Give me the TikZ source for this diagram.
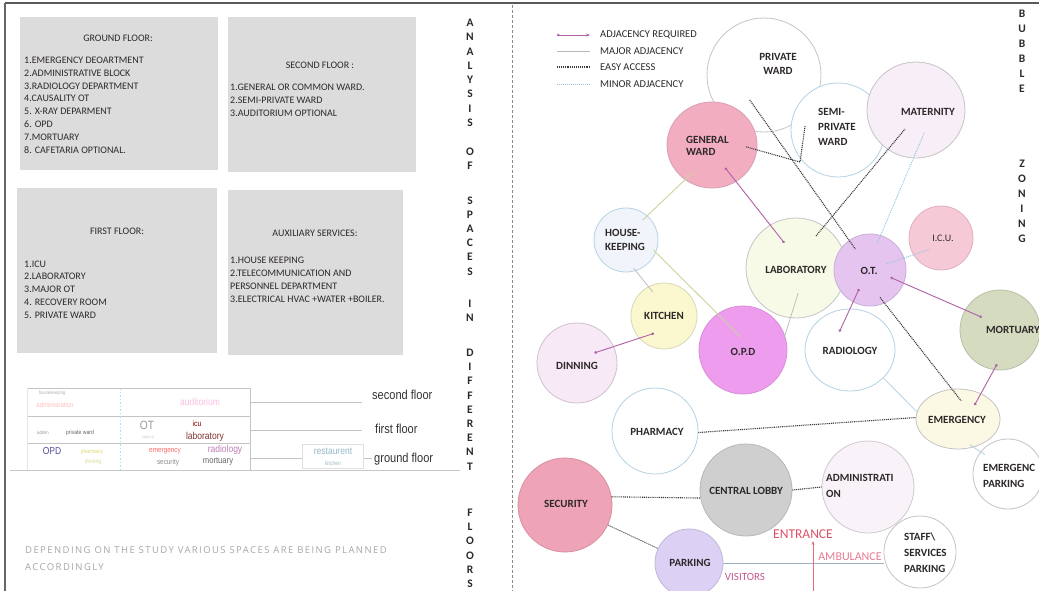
\documentclass[tikz,border=0pt]{standalone}
\usepackage{fontspec}
\setmainfont{Carlito}
\newfontfamily\narrowf[FakeStretch=0.85]{Liberation Sans}
\newfontfamily\openf[LetterSpace=15]{Open Sans}
\usetikzlibrary{shapes.geometric,arrows.meta,calc}
\definecolor{boxgray}{HTML}{DCDCDC}
\definecolor{txtdark}{HTML}{2E2929}
\definecolor{bline}{HTML}{C4C4C4}
\definecolor{blueline}{HTML}{B4D2E4}
\definecolor{purp}{HTML}{B060A8}
\definecolor{dotdark}{HTML}{383838}
\definecolor{minorblue}{HTML}{92C4DE}
\definecolor{majgray}{HTML}{B8B8B8}
\definecolor{ygreen}{HTML}{CAD59C}
\definecolor{redent}{HTML}{E0506A}
\begin{document}
\begin{tikzpicture}[x=1pt,y=-1pt,
  boxtitle/.style={font=\fontsize{10}{12}\selectfont, text=txtdark, inner sep=0pt},
  boxline/.style={font=\fontsize{10}{12}\selectfont, text=txtdark, inner sep=0pt, anchor=west},
  vl/.style={font=\bfseries\fontsize{11.5}{12}\selectfont, text=txtdark, inner sep=0pt},
  bub/.style={circle, inner sep=0pt, line width=0.8pt, minimum size=#1},
  ell/.style={ellipse, inner sep=0pt, line width=0.8pt},
  btxt/.style={font=\bfseries\fontsize{11}{14}\selectfont, text=txtdark, inner sep=0pt, align=center},
  btxtl/.style={font=\bfseries\fontsize{11}{15}\selectfont, text=txtdark, inner sep=0pt, align=left, anchor=west},
  legt/.style={font=\fontsize{10.5}{12}\selectfont, text=txtdark, inner sep=0pt, anchor=west},
  adjreq/.style={draw=purp, line width=0.9pt, {Circle[length=2.6pt]}-{Circle[length=2.6pt]}},
  easy/.style={draw=dotdark, line width=1.1pt, dash pattern=on 1pt off 0.9pt},
  minor/.style={draw=minorblue, line width=0.9pt, dash pattern=on 1pt off 1pt},
  major/.style={draw=majgray, line width=0.7pt},
  yline/.style={draw=ygreen, line width=0.9pt},
  sec/.style={draw=bline, line width=0.6pt},
  secl/.style={font=\narrowf\fontsize{13}{14}\selectfont, text=black!80, inner sep=0pt, anchor=west},
  st/.style={font=\narrowf\fontsize{#1}{#1}\selectfont, inner sep=0pt}
]
\useasboundingbox (0,0) rectangle (1039,591);
\fill[white] (0,0) rectangle (1039,591);
% frame
\draw[black!65, line width=1.8pt] (5,3) -- (1039,3);
\draw[black!60, line width=1.4pt] (5,3) -- (5,591);
\draw[black!45, line width=0.6pt, dash pattern=on 3pt off 2pt] (512,5) -- (512,591);

% ---------- gray boxes ----------
\fill[boxgray] (20,17) rectangle (218,170);
\fill[boxgray] (228,17) rectangle (416,172);
\fill[boxgray] (17,188) rectangle (217,353);
\fill[boxgray] (228,190) rectangle (403,355);

\node[boxtitle] (gft) at (118,38) {GROUND FLOOR:};
\foreach \t [count=\i] in {1.EMERGENCY DEOARTMENT, 2.ADMINISTRATIVE BLOCK, 3.RADIOLOGY DEPARTMENT, 4.CAUSALITY OT, 5. X-RAY DEPARMENT, 6. OPD, 7.MORTUARY, 8. CAFETARIA OPTIONAL.}
  \node[boxline] (g\i) at (24,{47.5+12.8*\i}) {\t};

\node[boxtitle] (sft) at (320,65) {SECOND FLOOR :};
\foreach \t [count=\i] in {1.GENERAL OR COMMON WARD., 2.SEMI-PRIVATE WARD, 3.AUDITORIUM OPTIONAL}
  \node[boxline] (s\i) at (230,{74+13*\i}) {\t};

\node[boxtitle] (fft) at (117,231) {FIRST FLOOR:};
\foreach \t [count=\i] in {1.ICU, 2.LABORATORY, 3.MAJOR OT, 4. RECOVERY ROOM, 5. PRIVATE WARD}
  \node[boxline] (f\i) at (24,{251+12.8*\i}) {\t};

\node[boxtitle] (aut) at (315,233) {AUXILIARY SERVICES:};
\foreach \t [count=\i] in {1.HOUSE KEEPING, 2.TELECOMMUNICATION AND, PERSONNEL DEPARTMENT, 3.ELECTRICAL HVAC +WATER +BOILER.}
  \node[boxline] (x\i) at (230,{248+12.7*\i}) {\t};

% ---------- section diagram ----------
\draw[sec] (27,388) -- (250,388);
\draw[sec] (27,416) -- (250,416);
\draw[sec] (27,443) -- (250,443);
\draw[sec] (250,388) -- (250,470);
\draw[draw=black!10, line width=0.5pt] (27,388) -- (27,470);
\draw[draw=black!22, line width=0.6pt] (10,470) -- (460,470);
\draw[draw=cyan!35, line width=0.8pt, dash pattern=on 1.5pt off 2pt] (120,388) -- (120,470);
\draw[sec] (250,402) -- (362,402);
\draw[sec] (250,430) -- (362,430);
\draw[sec] (250,458) -- (302,458);
\draw[sec] (363,458) -- (372,458);
\draw[draw=black!12, fill=white, line width=0.5pt] (302,444) rectangle (363,468);

\node[secl] (l2) at (372,395) {second floor};
\node[secl] (l1) at (375,429) {first floor};
\node[secl] (l0) at (374,459) {ground floor};

\node[st=5, text=black!30] (t1) at (52,393) {housekeeping};
\node[st=7, text=red!25] (t2) at (55,405) {administration};
\node[st=10, text=magenta!25] (t3) at (200,402) {auditorium};
\node[st=5, text=black!40] (t4) at (43,433) {admin};
\node[st=6, text=black!60] (t5) at (80,433) {private ward};
\node[st=12, text=black!40] (t6) at (147,425) {OT};
\node[st=4, text=black!20] (t7) at (148,437) {major ot};
\node[st=8, text=red!50!black] (t8) at (197,424) {icu};
\node[st=10, text=red!40!black!80] (t9) at (205,437) {laboratory};
\node[st=10, text=blue!45!black!70] (t10) at (52,451) {OPD};
\node[st=6, text=yellow!75!black!60] (t11) at (92,452) {pharmacy};
\node[st=6, text=yellow!70!black!50] (t12) at (93,462) {dinning};
\node[st=7.5, text=red!60] (t13) at (165,451) {emergency};
\node[st=7.5, text=black!45] (t14) at (168,463) {security};
\node[st=10, text=purp!80] (t15) at (225,450) {radiology};
\node[st=9, text=black!60] (t16) at (218,462) {mortuary};
\node[st=10, text=cyan!50!black!50] (t17) at (333,451) {restaurent};
\node[st=6, text=cyan!50!black!45] (t18) at (333,463) {kitchen};

\node[font=\openf\fontsize{9.5}{11}\selectfont, text=black!35, inner sep=0pt, anchor=west] (dep1) at (25,550) {DEPENDING ON THE STUDY VARIOUS SPACES ARE BEING PLANNED};
\node[font=\openf\fontsize{9.5}{11}\selectfont, text=black!35, inner sep=0pt, anchor=west] (dep2) at (25,567) {ACCORDINGLY};

% ---------- vertical texts ----------
\foreach \c/\y [count=\i] in {A/23,N/37,A/52,L/66,Y/80,S/94,I/109,S/123} \node[vl] (va\i) at (470,\y) {\c};
\foreach \c/\y [count=\i] in {O/152,F/166} \node[vl] (vb\i) at (470,\y) {\c};
\foreach \c/\y [count=\i] in {S/201,P/215,A/229,C/243,E/257,S/272} \node[vl] (vc\i) at (470,\y) {\c};
\foreach \c/\y [count=\i] in {I/304,N/318} \node[vl] (vd\i) at (470,\y) {\c};
\foreach \c/\y [count=\i] in {D/353,I/367,F/381,F/396,E/410,R/424,E/438,N/452,T/467} \node[vl] (ve\i) at (470,\y) {\c};
\foreach \c/\y [count=\i] in {F/513,L/527,O/541,O/556,R/570,S/584} \node[vl] (vf\i) at (470,\y) {\c};
\foreach \c [count=\i] in {B,U,B,B,L,E} \node[vl] (vg\i) at (1022,{14+15*(\i-1)}) {\c};
\foreach \c [count=\i] in {Z,O,N,I,N,G} \node[vl] (vh\i) at (1022,{164+15*(\i-1)}) {\c};

% ---------- legend ----------
\coordinate (la1) at (557,35); \coordinate (lb1) at (590,35);
\coordinate (la2) at (557,51); \coordinate (lb2) at (590,51);
\coordinate (la3) at (557,67); \coordinate (lb3) at (590,67);
\coordinate (la4) at (557,84); \coordinate (lb4) at (590,84);
\draw[draw=purp, line width=0.9pt, {Circle[length=2.4pt]}-{Stealth[length=4pt]}] (la1) -- (lb1);
\draw[major] (la2) -- (lb2);
\draw[easy] (la3) -- (lb3);
\draw[minor] (la4) -- (lb4);
\node[legt] (lg1) at (600,35) {ADJACENCY REQUIRED};
\node[legt] (lg2) at (600,51) {MAJOR ADJACENCY};
\node[legt] (lg3) at (600,67) {EASY ACCESS};
\node[legt] (lg4) at (600,84) {MINOR ADJACENCY};

% ---------- bubbles ----------
\node[bub=114pt, draw=bline, fill=white] (pw) at (764,75) {};
\node[bub=94pt, draw=blueline, fill=white] (sp) at (838,130) {};
\node[ell, minimum width=98pt, minimum height=96pt, draw=bline, fill={rgb,255:red,247;green,238;blue,247}] (mat) at (916,110) {};
\node[ell, minimum width=90pt, minimum height=86pt, draw={rgb,255:red,214;green,160;blue,178}, fill={rgb,255:red,242;green,173;blue,193}] (gw) at (712,145) {};
\node[bub=64pt, draw=blueline, fill={rgb,255:red,241;green,245;blue,251}] (hk) at (626,240) {};
\node[bub=100pt, draw=bline, fill={rgb,255:red,248;green,250;blue,232}] (lab) at (796,268) {};
\node[bub=72pt, draw={rgb,255:red,200;green,176;blue,216}, fill={rgb,255:red,229;green,197;blue,240}] (ot) at (870,270) {};
\node[bub=64pt, draw={rgb,255:red,224;green,176;blue,192}, fill={rgb,255:red,246;green,201;blue,214}] (icu) at (941,238) {};
\node[bub=66pt, draw={rgb,255:red,216;green,216;blue,184}, fill={rgb,255:red,251;green,248;blue,208}] (kit) at (664,316) {};
\node[bub=80pt, draw={rgb,255:red,208;green,192;blue,208}, fill={rgb,255:red,248;green,233;blue,246}] (din) at (577,363) {};
\node[bub=88pt, draw={rgb,255:red,216;green,144;blue,216}, fill={rgb,255:red,238;green,156;blue,238}] (opd) at (743,350) {};
\node[ell, minimum width=90pt, minimum height=82pt, draw=blueline, fill=white] (rad) at (850,350) {};
\node[bub=80pt, draw={rgb,255:red,184;green,192;blue,168}, fill={rgb,255:red,212;green,219;blue,191}] (mor) at (1000,330) {};
\node[bub=86pt, draw=blueline, fill=white] (phar) at (655,431) {};
\node[ell, minimum width=84pt, minimum height=60pt, draw=bline, fill={rgb,255:red,251;green,248;blue,227}] (em) at (958,419) {};
\node[bub=70pt, draw=bline, fill=white] (ep) at (1008,474) {};
\node[bub=92pt, draw={rgb,255:red,184;green,184;blue,184}, fill={rgb,255:red,207;green,207;blue,207}] (cl) at (746,490) {};
\node[bub=92pt, draw={rgb,255:red,208;green,200;blue,208}, fill={rgb,255:red,249;green,242;blue,249}] (adm) at (868,487) {};
\node[bub=94pt, draw={rgb,255:red,216;green,144;blue,160}, fill={rgb,255:red,239;green,163;blue,182}] (secu) at (565,505) {};
\node[bub=68pt, draw={rgb,255:red,192;green,184;blue,216}, fill={rgb,255:red,220;green,208;blue,244}] (park) at (689,563) {};
\node[bub=72pt, draw=bline, fill=white] (staff) at (920,552) {};

% ---------- connectors ----------
\coordinate (j1) at (800,162);
\draw[easy] ($(pw)!0.5!(pw.240)$) -- ($(ot)!0.7!(ot.125)$);
\draw[easy] ($(gw)!0.75!(gw.-3)$) -- (j1) -- ($(sp)!0.7!(sp.172)$);
\draw[easy] ($(lab)!0.75!(lab.58)$) -- ($(mat)!0.45!(mat.240)$);
\draw[minor] ($(mat)!0.5!(mat.290)$) -- ($(ot)!0.75!(ot.75)$);
\draw[yline] ($(gw)!0.75!(gw.235)$) -- ($(hk)!0.8!(hk.50)$);
\draw[adjreq] ($(gw)!0.6!(gw.300)$) -- ($(lab)!0.55!(lab.115)$);
\draw[major] ($(hk)!0.9!(hk.285)$) -- ($(kit)!0.8!(kit.115)$);
\draw[yline] ($(hk)!0.9!(hk.-20)$) -- ($(opd)!0.3!(opd.100)$);
\draw[adjreq] ($(kit)!0.6!(kit.240)$) -- ($(din)!0.5!(din.30)$);
\draw[major] ($(lab)!0.5!(lab.275)$) -- ($(opd)!0.95!(opd.15)$);
\draw[adjreq] ($(ot)!0.6!(ot.240)$) -- ($(rad)!0.5!(rad.120)$);
\draw[minor] ($(ot)!0.5!(ot.20)$) -- ($(icu)!0.5!(icu.225)$);
\draw[adjreq] ($(ot)!0.6!(ot.-20)$) -- ($(mor)!0.55!(mor.145)$);
\draw[easy] ($(ot)!0.8!(ot.-70)$) -- ($(em)!0.6!(em.80)$);
\draw[draw=blueline, line width=0.8pt] (rad.-40) -- (em.170);
\draw[adjreq] ($(mor)!0.85!(mor.-95)$) -- ($(em)!0.6!(em.40)$);
\draw[easy] (phar.-2) -- (em.178);
\draw[draw=blueline, line width=0.8pt] ($(em)!0.9!(em.-65)$) -- ($(ep)!0.85!(ep.140)$);
\draw[easy] (secu.10) -- (cl.190);
\draw[easy] (cl.0) -- (adm.180);
\draw[draw=black!60, line width=0.8pt, dash pattern=on 1.5pt off 0.6pt] (secu.-25) -- (park.155);
\draw[draw=blueline!85!black, line width=0.8pt] (park.east) -- (staff.west |- park.east);
\coordinate (rb) at (813,591);
\coordinate (rt) at (813,541);
\draw[draw=redent!85, line width=1pt, -{Stealth[length=4pt]}] (rb) -- (rt);

% ---------- bubble texts ----------
\node[btxt] (pwt) at (778,64) {PRIVATE\\WARD};
\node[btxtl] (spt) at (818,127) {SEMI-\\PRIVATE\\WARD};
\node[btxt] (matt) at (928,112) {MATERNITY};
\node[btxtl, font=\bfseries\fontsize{11}{12}\selectfont] (gwt) at (686,146) {GENERAL\\WARD};
\node[btxtl, font=\bfseries\fontsize{11}{14}\selectfont] (hkt) at (605,240) {HOUSE-\\KEEPING};
\node[btxt] (labt) at (796,270) {LABORATORY};
\node[btxt] (ott) at (869,271) {O.T.};
\node[btxt, font=\fontsize{10}{12}\selectfont] (icut) at (943,238) {I.C.U.};
\node[btxt] (kitt) at (664,316) {KITCHEN};
\node[btxt] (dint) at (577,366) {DINNING};
\node[btxt] (opdt) at (743,352) {O.P.D};
\node[btxt] (radt) at (850,351) {RADIOLOGY};
\node[btxt] (mort) at (1013,330) {MORTUARY};
\node[btxt] (phart) at (657,432) {PHARMACY};
\node[btxt] (emt) at (957,420) {EMERGENCY};
\node[btxtl, font=\bfseries\fontsize{11}{16}\selectfont] (ept) at (983,476) {EMERGENC\\PARKING};
\node[btxt] (clt) at (746,491) {CENTRAL LOBBY};
\node[btxtl, font=\bfseries\fontsize{11}{16}\selectfont] (admt) at (826,486) {ADMINISTRATI\\ON};
\node[btxt] (sect) at (566,504) {SECURITY};
\node[btxt] (parkt) at (690,563) {PARKING};
\node[btxtl, font=\bfseries\fontsize{11}{16}\selectfont] (stafft) at (904,553) {STAFF\textbackslash\\SERVICES\\PARKING};
\node[font=\fontsize{13.5}{15}\selectfont, text=redent, inner sep=0pt] (ent) at (803,534) {ENTRANCE};
\node[font=\fontsize{12}{14}\selectfont, text=redent!75, inner sep=0pt] (amb) at (850,557) {AMBULANCE};
\node[font=\fontsize{11}{13}\selectfont, text=purp!60!redent, inner sep=0pt] (vis) at (745,577) {VISITORS};
\end{tikzpicture}
\end{document}
